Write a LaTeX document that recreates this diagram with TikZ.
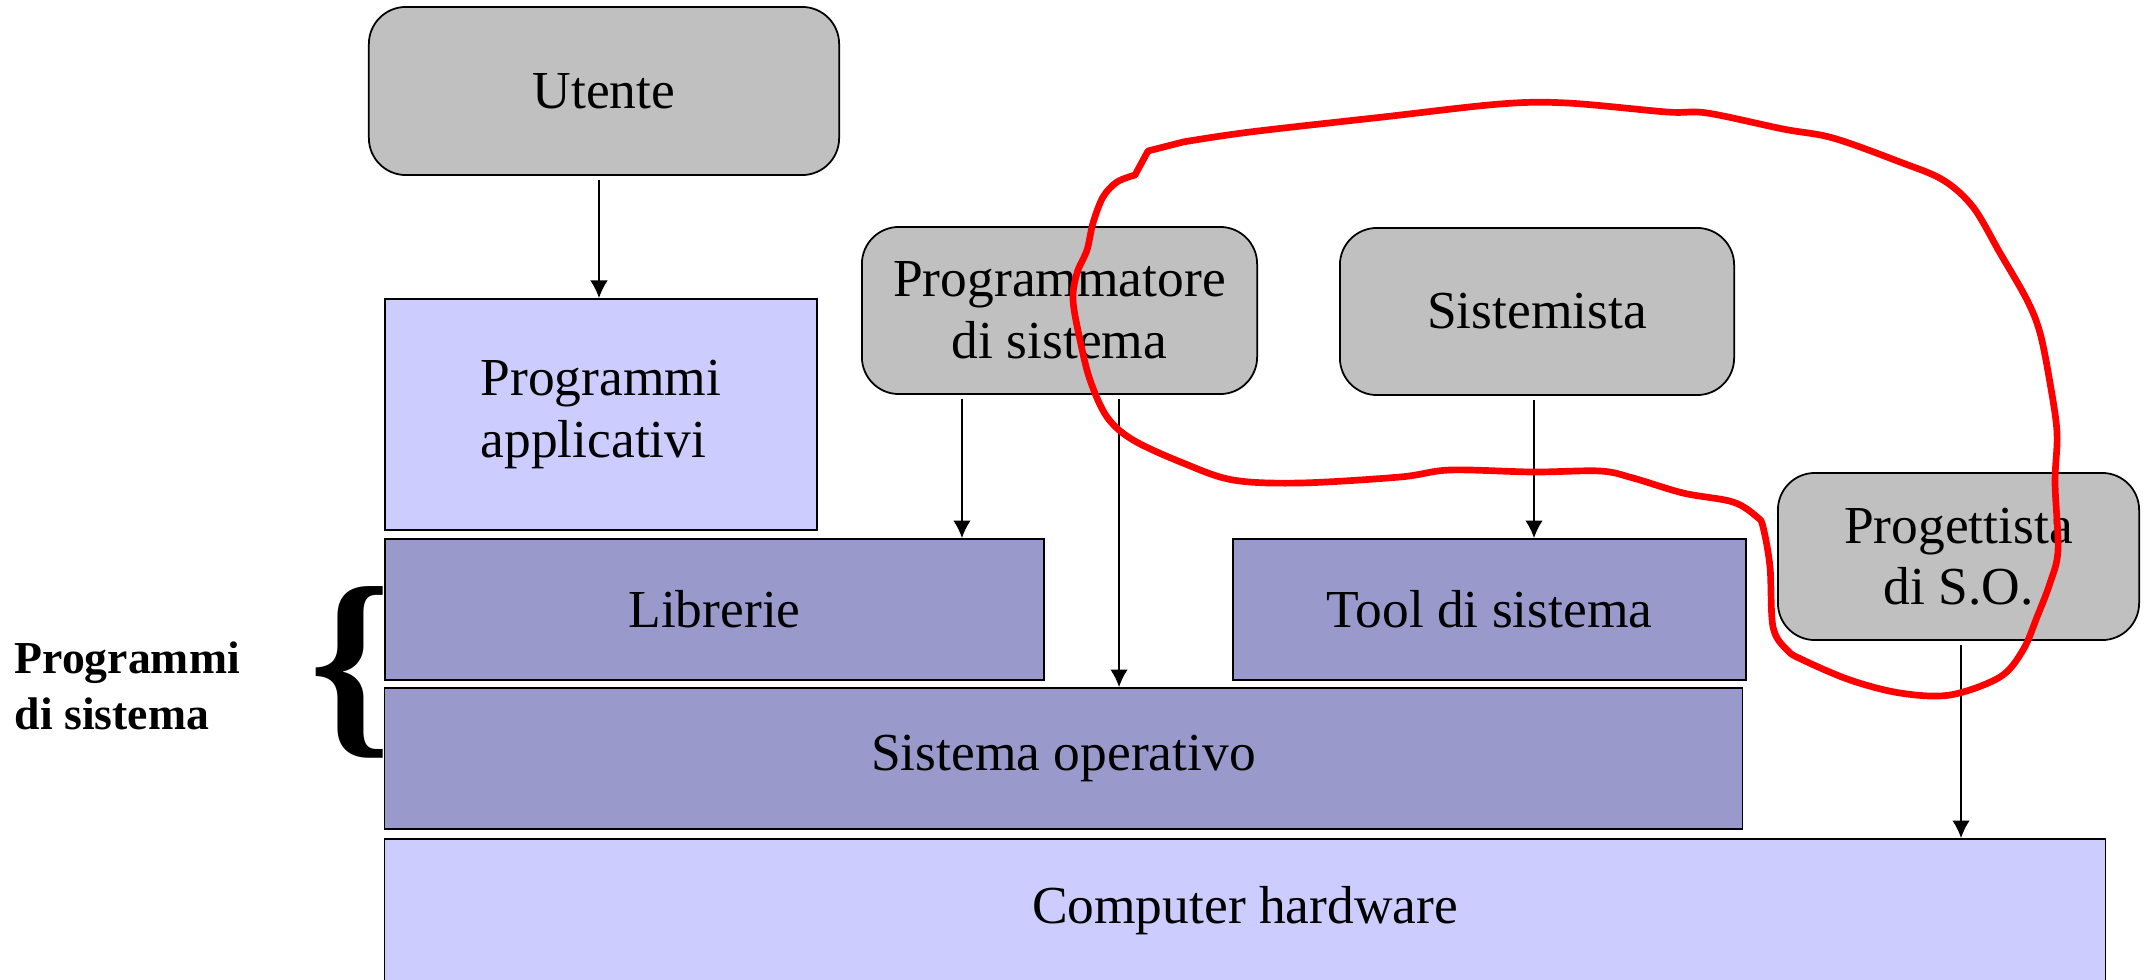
\documentclass[tikz,border=0pt]{standalone}
\usepackage{fontspec}
\setmainfont{Liberation Serif}
\usetikzlibrary{arrows.meta,positioning}

\definecolor{rolegray}{HTML}{C0C0C0}
\definecolor{layerdark}{HTML}{9999CC}
\definecolor{layerlight}{HTML}{CCCCFF}

\begin{document}
\begin{tikzpicture}[x=0.01cm,y=-0.01cm,>={Latex[length=5pt,width=5pt]},
  role/.style={draw,line width=0.5pt,fill=rolegray,rounded corners=0.37cm,inner sep=0pt,align=center,font=\fontsize{15.2}{17.5}\selectfont},
  layer/.style={draw,line width=0.5pt,fill=layerdark,inner sep=0pt,align=center,font=\fontsize{15.2}{17.5}\selectfont},
  base/.style={draw,line width=0.5pt,fill=layerlight,inner sep=0pt,align=center,font=\fontsize{15.2}{17.5}\selectfont},
  link/.style={->,line width=0.5pt,shorten <=1.2pt}]
  \useasboundingbox (0,0) rectangle (2149,979);
  \node[role, minimum width=4.70cm, minimum height=1.68cm] (U) at (604,91) {Utente};
  \node[base, minimum width=4.32cm, minimum height=2.31cm, align=left] (PA) at (601,414.5) {Programmi\\applicativi};
  \node[role, minimum width=3.95cm, minimum height=1.67cm] (PS) at (1059.5,310.5) {Programmatore\\di sistema};
  \node[role, minimum width=3.94cm, minimum height=1.67cm] (S) at (1537,311.5) {Sistemista};
  \node[role, minimum width=3.61cm, minimum height=1.67cm] (PSO) at (1958.5,556.5) {Progettista\\di S.O.};
  \node[layer, minimum width=6.59cm, minimum height=1.41cm] (L) at (714.5,609.5) {Librerie};
  \node[layer, minimum width=5.13cm, minimum height=1.41cm] (T) at (1489.5,609.5) {Tool di sistema};
  \node[layer, minimum width=13.57cm, minimum height=1.41cm] (SO) at (1063.5,758.5) {Sistema operativo};
  \node[base, minimum width=17.20cm, minimum height=1.44cm] (HW) at (1245,911) {Computer hardware};
  \node[inner sep=0pt, font=\bfseries\fontsize{59}{59}\selectfont] (B) at (350,672) {\{};
  \node[inner sep=0pt, anchor=west, align=left, font=\bfseries\fontsize{13}{16}\selectfont] (PDS) at (14,686) {Programmi\\di sistema};
  \draw[link] ([xshift=-0.05cm]U.south) -- ([xshift=-0.05cm]U.south |- PA.north);
  \draw[link] ([xshift=-0.975cm]PS.south) -- ([xshift=-0.975cm]PS.south |- L.north);
  \draw[link] ([xshift=0.595cm]PS.south) -- ([xshift=0.595cm]PS.south |- SO.north);
  \draw[link] ([xshift=-0.03cm]S.south) -- ([xshift=-0.03cm]S.south |- T.north);
  \draw[link] ([xshift=0.025cm]PSO.south) -- ([xshift=0.025cm]PSO.south |- HW.north);
  % hand-drawn loop
  \draw[red, line width=1.9pt, line join=round, line cap=round] (1148,151) -- plot[smooth, tension=0.55] coordinates {
    (1183,142) (1250,132) (1383,117) (1500,104) (1567,103) (1667,112) (1707,113)
    (1783,129) (1833,138) (1900,162) (1943,180) (1973,207) (2000,253) (2027,300)
    (2040,333) (2050,383) (2057,433) (2055,483) (2058,550) (2050,583) (2037,617)
    (2023,650) (2000,677) (1950,695) (1900,693) (1850,680) (1803,660) (1787,650)
    (1773,627) (1770,567) (1763,527) (1757,517) (1733,502) (1683,493) (1633,478)
    (1600,471) (1533,472) (1450,470) (1400,477) (1300,483) (1233,480) (1183,463)
    (1133,440) (1107,417) (1090,380) (1080,340) (1073,300) (1077,273) (1087,250)
    (1093,223) (1103,197) (1117,182) (1135,175)} -- cycle;
\end{tikzpicture}
\end{document}
